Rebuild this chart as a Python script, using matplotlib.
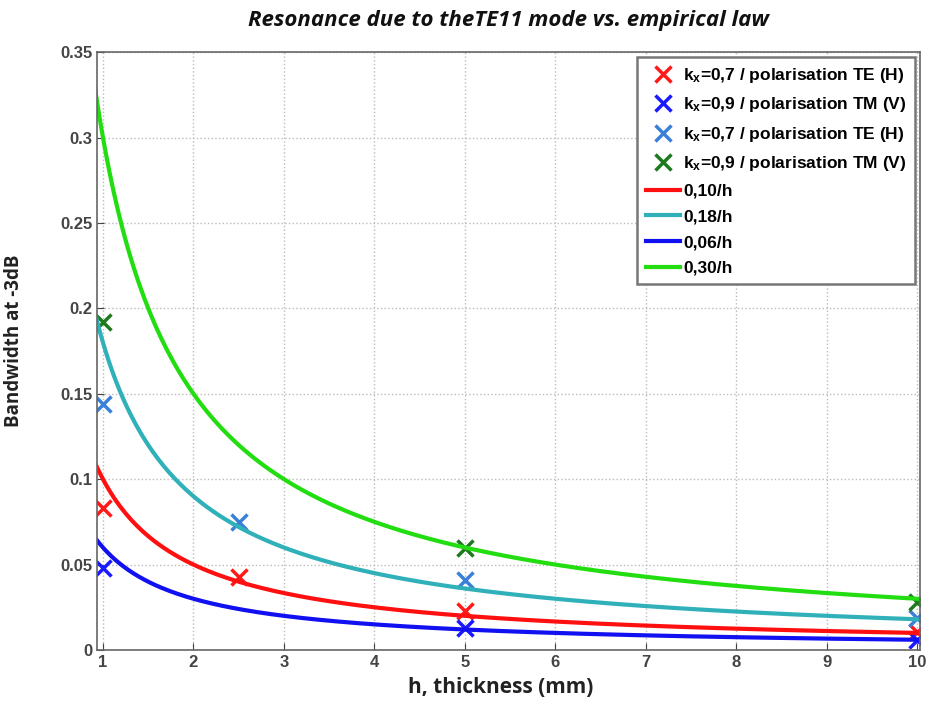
import numpy as np
import matplotlib.pyplot as plt

# measured points (h in mm, bandwidth)
h_te07 = [1, 2.5, 5, 10]
bw_te07 = [0.083, 0.043, 0.023, 0.0105]
h_tm09 = [1, 5, 10]
bw_tm09 = [0.048, 0.013, 0.006]
h_te07b = [1, 2.5, 5, 10]
bw_te07b = [0.144, 0.075, 0.041, 0.0187]
h_tm09b = [1, 5, 10]
bw_tm09b = [0.192, 0.060, 0.028]

# empirical laws  k/h
law_k = [0.10, 0.18, 0.06, 0.30]
law_labels = ['0,10/h', '0,18/h', '0,06/h', '0,30/h']
law_colors = ['#ff1010', '#30b0b8', '#1010f0', '#22dd10']

plt.rcParams['mathtext.fontset'] = 'custom'
plt.rcParams['mathtext.bf'] = 'Liberation Sans:bold'
plt.rcParams['mathtext.rm'] = 'Liberation Sans:bold'
plt.rcParams['mathtext.it'] = 'Liberation Sans:bold'
plt.rcParams['mathtext.default'] = 'bf'

fig = plt.figure(figsize=(9.38, 7.05), dpi=100)
ax = fig.add_axes([0.1034, 0.078, 0.8776, 0.848])

mk = dict(marker='x', linestyle='none', markersize=11, markeredgewidth=2.5)
ax.plot(h_te07, bw_te07, color='#ff1a1a', label='k$_x$=0,7 / polarisation TE (H)', **mk)
ax.plot(h_tm09, bw_tm09, color='#1a1aff', label='k$_x$=0,9 / polarisation TM (V)', **mk)
ax.plot(h_te07b, bw_te07b, color='#3a80d8', label='k$_x$=0,7 / polarisation TE (H)', **mk)
ax.plot(h_tm09b, bw_tm09b, color='#1f7a1f', label='k$_x$=0,9 / polarisation TM (V)', **mk)

h = np.linspace(0.88, 10, 300)
for k, lab, c in zip(law_k, law_labels, law_colors):
    ax.plot(h, k / h, color=c, linewidth=3, label=lab)

ax.set_xlim(0.934, 10.03)
ax.set_ylim(0, 0.35)
ax.set_xticks(range(1, 11))
ax.set_yticks([0, 0.05, 0.1, 0.15, 0.2, 0.25, 0.3, 0.35])
ax.set_yticklabels(['0', '0.05', '0.1', '0.15', '0.2', '0.25', '0.3', '0.35'])
for lbl in ax.get_xticklabels() + ax.get_yticklabels():
    lbl.set_fontfamily('Liberation Sans')
    lbl.set_fontweight('bold')
    lbl.set_fontsize(12)
    lbl.set_color('#333333')
ax.tick_params(direction='in', length=5, colors='#444444')
ax.grid(True, linestyle=':', color='#bbbbbb', linewidth=1)
for s in ax.spines.values():
    s.set_color('#666666')
    s.set_linewidth(1.2)

ax.set_xlabel('h, thickness (mm)', fontsize=15, fontweight='bold', family='Open Sans', color='#222222')
ax.set_ylabel('Bandwidth at -3dB', fontsize=13.5, fontweight='bold', family='Open Sans', color='#222222')
ax.xaxis.set_label_coords(0.49, -0.045)
ax.yaxis.set_label_coords(-0.089, 0.517)
ax.set_title('Resonance due to theTE11 mode vs. empirical law', fontsize=16, fontweight='bold',
             style='italic', family='Open Sans', color='#111111', pad=19)

leg = ax.legend(loc='upper right', prop={'family': 'Liberation Sans', 'weight': 'bold', 'size': 12.5},
                handlelength=2.0, handletextpad=0.15, labelspacing=0.6, borderpad=0.5,
                borderaxespad=0.3, fancybox=False, framealpha=1, markerscale=1.1)
leg.get_frame().set_edgecolor('#777777')
leg.get_frame().set_linewidth(1.8)

fig.savefig('out.png', dpi=100)
